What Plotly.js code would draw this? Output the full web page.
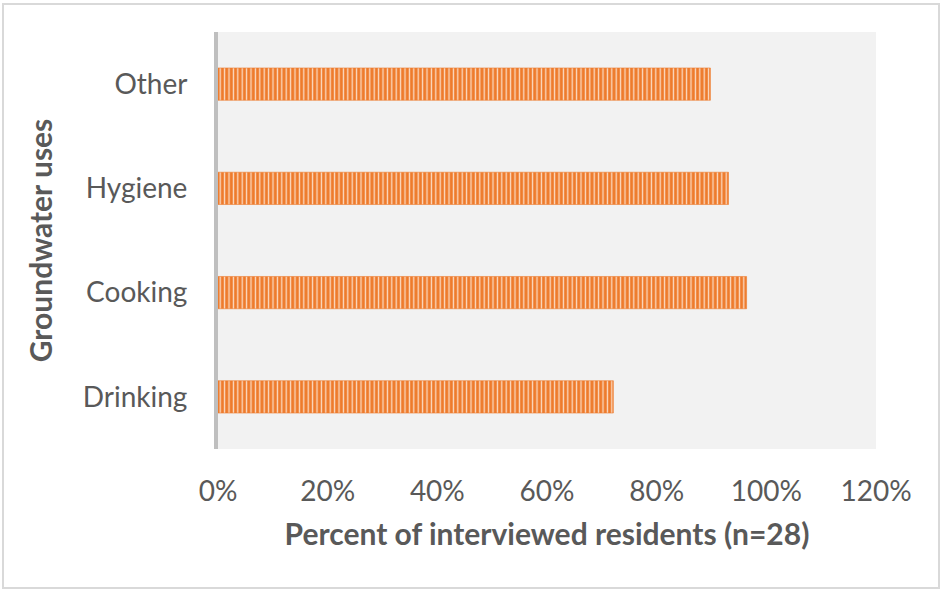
<!DOCTYPE html>
<html>
<head>
<meta charset="utf-8">
<script src="https://cdn.plot.ly/plotly-3.0.1.min.js"></script>
<style>
  html, body { margin: 0; padding: 0; background: #ffffff; }
  #wrap { position: relative; width: 941px; height: 589px; }
  #chart { width: 941px; height: 589px; }
  #frame { position: absolute; left: 2px; top: 3px; width: 934px; height: 582px;
           border: 2px solid #d9d9d9; pointer-events: none; }
</style>
</head>
<body>
<div id="wrap">
  <div id="chart"></div>
  <div id="frame"></div>
</div>
<script>
const categories = ["Drinking", "Cooking", "Hygiene", "Other"];
const percentValues = [72.1, 96.4, 93.1, 89.8];
const xTickValues = [0, 20, 40, 60, 80, 100, 120];
const xTickLabels = ["0%", "20%", "40%", "60%", "80%", "100%", "120%"];

const fontFamily = "Lato, 'Open Sans', sans-serif";
const textColor = "#595959";

const trace = {
  type: "bar",
  orientation: "h",
  y: categories,
  x: percentValues,
  marker: {
    color: "#ED7D31",
    line: { color: "rgba(237,125,49,0.6)", width: 1 },
    pattern: {
      shape: "|",
      bgcolor: "#EE7B2C",
      fgcolor: "#FBDCC5",
      size: 4.4,
      solidity: 0.3,
      fillmode: "replace"
    }
  },
  hoverinfo: "x+y"
};

const layout = {
  width: 941,
  height: 589,
  paper_bgcolor: "#ffffff",
  plot_bgcolor: "#f2f2f2",
  margin: { l: 218, r: 65, t: 32, b: 140 },
  bargap: 0.69,
  showlegend: false,
  font: { family: fontFamily, color: textColor },
  xaxis: {
    range: [0, 120],
    tickvals: xTickValues,
    ticktext: xTickLabels,
    showgrid: false,
    zeroline: false,
    showline: false,
    ticks: "outside",
    ticklen: 17,
    tickcolor: "rgba(0,0,0,0)",
    tickfont: { family: fontFamily, size: 28, color: textColor },
    title: {
      text: "<b>Percent of interviewed residents (n=28)</b>",
      font: { family: fontFamily, size: 30, color: textColor },
      standoff: 18
    },
    fixedrange: true
  },
  yaxis: {
    categoryorder: "array",
    categoryarray: categories,
    showgrid: false,
    zeroline: false,
    showline: true,
    linecolor: "#bfbfbf",
    linewidth: 4,
    ticks: "outside",
    ticklen: 21,
    tickcolor: "rgba(0,0,0,0)",
    tickfont: { family: fontFamily, size: 28, color: textColor },
    title: {
      text: "<b>Groundwater uses</b>",
      font: { family: fontFamily, size: 30, color: textColor },
      standoff: 22
    },
    fixedrange: true
  }
};

Plotly.newPlot("chart", [trace], layout, { displayModeBar: false, staticPlot: true });
</script>
</body>
</html>
